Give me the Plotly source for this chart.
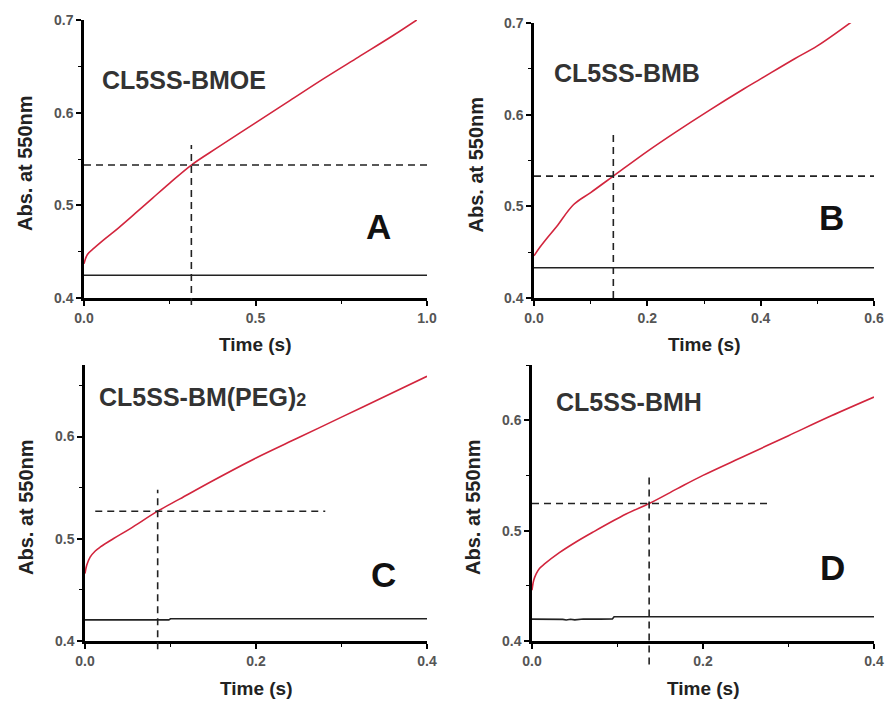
import plotly.graph_objects as go

# ---------------- data ----------------
# Panel A: CL5SS-BMOE
a_time = [0.0, 0.01, 0.03, 0.06, 0.10, 0.15, 0.20, 0.25, 0.313, 0.39, 0.50, 0.60, 0.70, 0.80, 0.90, 0.97]
a_abs = [0.437, 0.447, 0.454, 0.4635, 0.4755, 0.4915, 0.5078, 0.524, 0.5435, 0.5625, 0.589, 0.613, 0.637, 0.660, 0.683, 0.700]
a_base_time = [0.0, 1.0]
a_base_abs = [0.4245, 0.4245]
a_half_abs = 0.5435
a_half_time = 0.313

# Panel B: CL5SS-BMB
b_time = [0.0, 0.01, 0.02, 0.04, 0.07, 0.10, 0.14, 0.20, 0.25, 0.31, 0.37, 0.40, 0.46, 0.50, 0.56]
b_abs = [0.446, 0.455, 0.463, 0.478, 0.502, 0.515, 0.533, 0.560, 0.581, 0.605, 0.628, 0.639, 0.661, 0.675, 0.701]
b_base_time = [0.0, 0.6]
b_base_abs = [0.433, 0.433]
b_half_abs = 0.533
b_half_time = 0.140

# Panel C: CL5SS-BM(PEG)2
c_time = [0.0, 0.002, 0.006, 0.012, 0.018, 0.033, 0.053, 0.085, 0.111, 0.15, 0.20, 0.25, 0.30, 0.35, 0.40]
c_abs = [0.466, 0.474, 0.482, 0.488, 0.492, 0.500, 0.510, 0.527, 0.539, 0.557, 0.579, 0.599, 0.619, 0.639, 0.659]
c_base_time = [0.0, 0.098, 0.100, 0.40]
c_base_abs = [0.4207, 0.4207, 0.4218, 0.4218]
c_half_abs = 0.527
c_half_time = 0.085

# Panel D: CL5SS-BMH
d_time = [0.0, 0.002, 0.005, 0.0085, 0.015, 0.032, 0.05, 0.071, 0.11, 0.137, 0.17, 0.20, 0.25, 0.30, 0.35, 0.40]
d_abs = [0.446, 0.455, 0.461, 0.4655, 0.470, 0.480, 0.489, 0.4985, 0.515, 0.5245, 0.538, 0.550, 0.568, 0.586, 0.604, 0.621]
d_base_time = [0.0, 0.02, 0.036, 0.040, 0.045, 0.050, 0.055, 0.060, 0.080, 0.094, 0.096, 0.40]
d_base_abs = [0.4198, 0.4199, 0.4196, 0.4190, 0.4197, 0.4191, 0.4197, 0.4199, 0.4198, 0.4199, 0.4219, 0.4219]
d_half_abs = 0.5245
d_half_time = 0.137

names = ["CL5SS-BMOE", "CL5SS-BMB",
         'CL5SS-BM(PEG)<span style="font-size:18px">2</span>', "CL5SS-BMH"]
letters = ["A", "B", "C", "D"]
x_ranges = [[0, 1.0], [0, 0.6], [0, 0.4], [0, 0.4]]
y_ranges = [[0.4, 0.7], [0.4, 0.7], [0.4, 0.67], [0.4, 0.65]]
x_dticks = [0.5, 0.2, 0.2, 0.2]
x_minor = [0.25, 0.1, 0.1, 0.1]
y_title = "Abs. at 550nm"
x_title = "Time (s)"

# ---------------- layout helpers (pixel geometry) ----------------
W, H = 888, 704
def dom_x(x0, x1):
    return [x0 / W, x1 / W]
def dom_y(top, bottom):
    return [1 - bottom / H, 1 - top / H]

boxes = [  # left, right, top, bottom in pixels
    (84, 427, 20, 298),
    (534, 874, 23, 298),
    (85, 427, 365, 641),
    (532, 874, 365, 641),
]
h_ends = [1.0, 0.6, 0.281, 0.279]
h_starts = [0.0, 0.0, 0.012, 0.0]
v_tops = [0.565, 0.579, 0.548, 0.550]
v_bottoms_dom = [-0.025, 0.0, -0.03, -0.085]

RED = "#d2253d"
FONT = "Liberation Sans, Arial, sans-serif"
DASH = "7px,5px"

fig = go.Figure()

series = [
    (a_time, a_abs, a_base_time, a_base_abs, a_half_abs, a_half_time),
    (b_time, b_abs, b_base_time, b_base_abs, b_half_abs, b_half_time),
    (c_time, c_abs, c_base_time, c_base_abs, c_half_abs, c_half_time),
    (d_time, d_abs, d_base_time, d_base_abs, d_half_abs, d_half_time),
]

shapes = []
annotations = []
for i, (t, y, bt, by, ha, ht) in enumerate(series):
    n = "" if i == 0 else str(i + 1)
    xr, yr = "x" + n, "y" + n
    fig.add_trace(go.Scatter(x=bt, y=by, mode="lines", xaxis=xr, yaxis=yr,
                             line=dict(color="#222222", width=1.6), showlegend=False))
    fig.add_trace(go.Scatter(x=t, y=y, mode="lines", xaxis=xr, yaxis=yr, line_shape="spline",
                             line=dict(color=RED, width=1.6), showlegend=False))
    shapes.append(dict(type="line", xref=xr, yref=yr, x0=h_starts[i], x1=h_ends[i], y0=ha, y1=ha,
                       line=dict(color="#222222", width=1.6, dash=DASH)))
    shapes.append(dict(type="line", xref=xr, yref=yr + " domain", x0=ht, x1=ht,
                       y0=v_bottoms_dom[i],
                       y1=(v_tops[i] - y_ranges[i][0]) / (y_ranges[i][1] - y_ranges[i][0]),
                       line=dict(color="#222222", width=1.6, dash=DASH)))

    l, r, tp, bt_ = boxes[i]
    ax_common = dict(showline=True, linecolor="black", linewidth=2.5, showgrid=False, zeroline=False,
                     ticks="outside", ticklen=5, tickwidth=1.6, tickcolor="black", automargin=False,
                     tickfont=dict(family=FONT, size=14, color="#555555", weight="bold"),
                     tickformat=".1f", fixedrange=True)
    fig.layout["xaxis" + n] = dict(ax_common, domain=dom_x(l, r), range=x_ranges[i], anchor=yr,
                                   dtick=x_dticks[i], tick0=0,
                                   minor=dict(dtick=x_minor[i], tick0=0, ticks="outside", ticklen=3,
                                              tickwidth=1.3, tickcolor="black", showgrid=False))
    fig.layout["yaxis" + n] = dict(ax_common, domain=dom_y(tp, bt_), range=y_ranges[i], anchor=xr,
                                   dtick=0.1, tick0=0.4,
                                   minor=dict(dtick=0.05, tick0=0.4, ticks="outside", ticklen=3,
                                              tickwidth=1.3, tickcolor="black", showgrid=False))
    annotations.append(dict(xref="paper", yref="paper", x=(l - 59) / W, y=1 - ((tp + bt_) / 2 + 4) / H,
                            text=y_title, textangle=-90, showarrow=False,
                            font=dict(family=FONT, size=20, color="#222222", weight="bold"),
                            xanchor="center", yanchor="middle"))
    annotations.append(dict(xref="paper", yref="paper", x=(l + r) / 2 / W, y=1 - (bt_ + 47) / H,
                            text=x_title, showarrow=False,
                            font=dict(family=FONT, size=19, color="#222222", weight="bold"),
                            xanchor="center", yanchor="middle"))

name_pos = [(100, 80), (552, 73), (97, 397), (554, 402)]
letter_pos = [(378, 226), (831, 217), (383, 574), (832, 567)]
for i in range(4):
    annotations.append(dict(xref="paper", yref="paper", x=name_pos[i][0] / W, y=1 - name_pos[i][1] / H,
                            text=names[i], showarrow=False, xanchor="left", yanchor="middle",
                            font=dict(family=FONT, size=25, color="#333333", weight="bold")))
    annotations.append(dict(xref="paper", yref="paper", x=letter_pos[i][0] / W, y=1 - letter_pos[i][1] / H,
                            text=letters[i], showarrow=False, xanchor="center", yanchor="middle",
                            font=dict(family=FONT, size=35, color="#111111", weight="bold")))

fig.update_layout(template="none", width=W, height=H, margin=dict(l=0, r=0, t=0, b=0, pad=0),
                  paper_bgcolor="white", plot_bgcolor="white",
                  shapes=shapes, annotations=annotations, showlegend=False)

fig.write_html("out.html", config={"displayModeBar": False},
               post_script="document.body.style.margin='0';")
